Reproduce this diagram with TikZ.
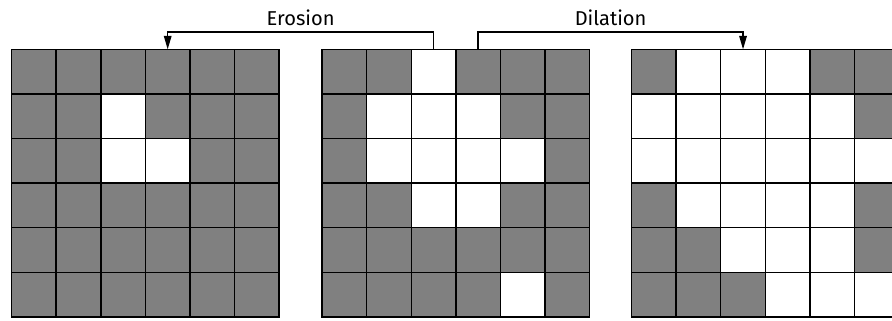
\documentclass[tikz,border=0pt]{standalone}
\usepackage{fontspec}
\setmainfont{Fira Sans}
\usetikzlibrary{arrows.meta}
\definecolor{cpix}{HTML}{808080}

% one 6x6 binary image: name prefix, left x, rows of bits (1 = grey)
\newcommand{\pixgrid}[3]{%
  \foreach \rowbits [count=\r] in {#3}{
    \foreach \bit [count=\c] in \rowbits{
      \ifnum\bit=1 \def\pixcol{cpix}\else\def\pixcol{white}\fi
      \node[pix, fill=\pixcol] (#1-\r-\c) at (#2+\c-0.5, 6.57-\r) {};
    }
  }
}

\begin{document}
\begin{tikzpicture}[
  pix/.style={draw, line width=0.9pt, minimum size=1cm, inner sep=0pt, outer sep=0pt},
  flow/.style={-{Triangle[length=3mm, width=1.7mm]}, line width=0.8pt},
  lbl/.style={font=\fontsize{12.8}{15}\selectfont, inner sep=2pt, above=1.8pt},
]
\useasboundingbox (0,0) rectangle (20,7.175);

% ---- eroded / input / dilated ----
\pixgrid{ero}{0.26}{{1,1,1,1,1,1},{1,1,0,1,1,1},{1,1,0,0,1,1},{1,1,1,1,1,1},{1,1,1,1,1,1},{1,1,1,1,1,1}}
\pixgrid{in}{7.22}{{1,1,0,1,1,1},{1,0,0,0,1,1},{1,0,0,0,0,1},{1,1,0,0,1,1},{1,1,1,1,1,1},{1,1,1,1,0,1}}
\pixgrid{dil}{14.16}{{1,0,0,0,1,1},{0,0,0,0,0,1},{0,0,0,0,0,0},{1,0,0,0,0,1},{1,1,0,0,0,1},{1,1,1,0,0,0}}

% ---- operations ----
\draw[flow] (in-1-3.north) -- ++(0,0.39) -| node[lbl, pos=0.25] (erolab) {Erosion} (ero-1-4.north);
\draw[flow] (in-1-4.north) -- ++(0,0.39) -| node[lbl, pos=0.25] (dillab) {Dilation} (dil-1-3.north);
\end{tikzpicture}
\end{document}
